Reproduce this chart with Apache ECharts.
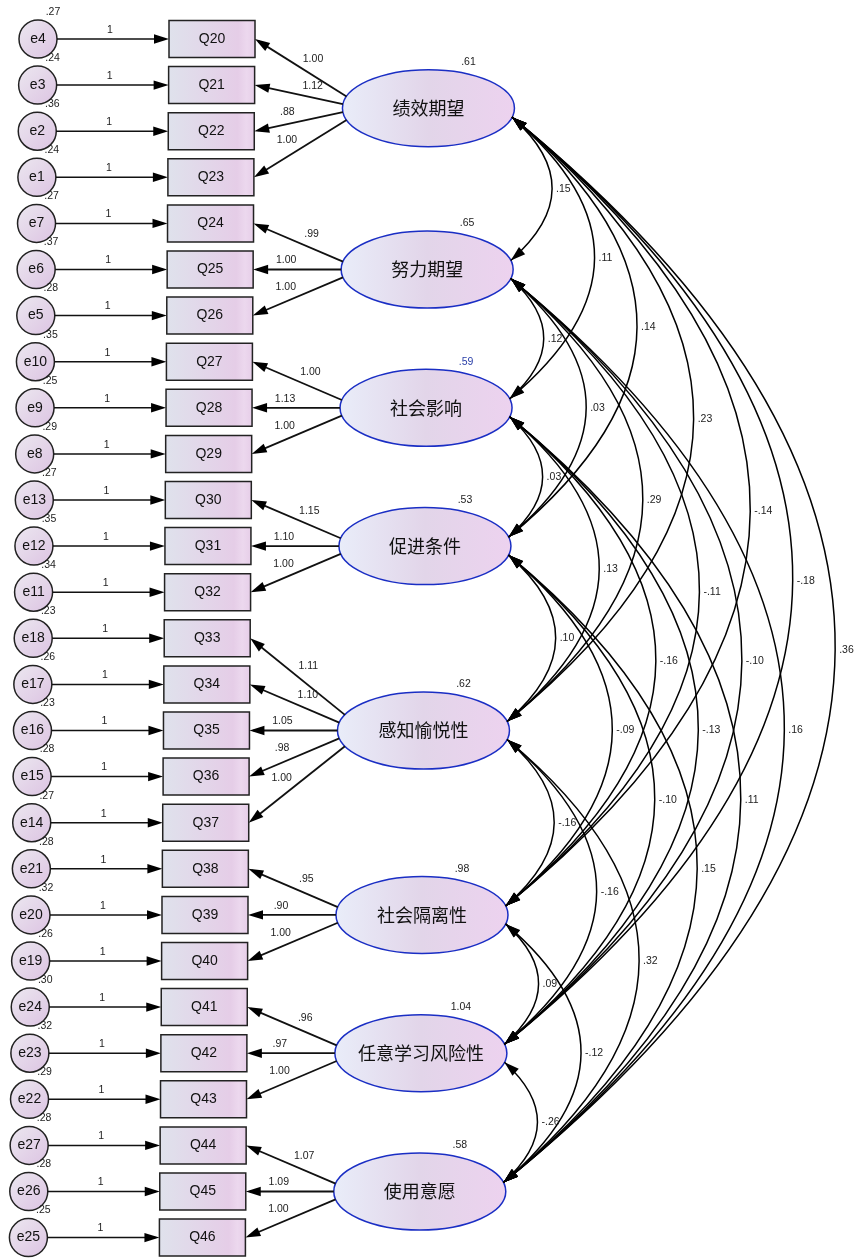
<!DOCTYPE html>
<html><head><meta charset="utf-8">
<script src="https://cdn.jsdelivr.net/npm/echarts@6/dist/echarts.min.js"></script>
<style>html,body{margin:0;padding:0;background:#fff}#c{width:856px;height:1258px}</style>
</head><body><div id="c"></div>
<script>
// ---------- data ----------
const factors = ['绩效期望','努力期望','社会影响','促进条件','感知愉悦性','社会隔离性','任意学习风险性','使用意愿'];
const factorVariances = [0.61,0.65,0.59,0.53,0.62,0.98,1.04,0.58];
const indicators = ['Q20','Q21','Q22','Q23','Q24','Q25','Q26','Q27','Q28','Q29','Q30','Q31','Q32','Q33','Q34','Q35','Q36','Q37','Q38','Q39','Q40','Q41','Q42','Q43','Q44','Q45','Q46'];
const indicatorFactor = [0,0,0,0,1,1,1,2,2,2,3,3,3,4,4,4,4,4,5,5,5,6,6,6,7,7,7];
const loadings = [1.00,1.12,0.88,1.00,0.99,1.00,1.00,1.00,1.13,1.00,1.15,1.10,1.00,1.11,1.10,1.05,0.98,1.00,0.95,0.90,1.00,0.96,0.97,1.00,1.07,1.09,1.00];
const errors = ['e4','e3','e2','e1','e7','e6','e5','e10','e9','e8','e13','e12','e11','e18','e17','e16','e15','e14','e21','e20','e19','e24','e23','e22','e27','e26','e25'];
const errorVariances = [0.27,0.24,0.36,0.24,0.27,0.37,0.28,0.35,0.25,0.29,0.27,0.35,0.34,0.23,0.26,0.23,0.28,0.27,0.28,0.32,0.26,0.30,0.32,0.29,0.28,0.28,0.25];
const errorWeights = errors.map(() => '1');
const covariances = [
  [0,1,0.15],[0,2,0.11],[0,3,0.14],[0,4,0.23],[0,5,-0.14],[0,6,-0.18],[0,7,0.36],
  [1,2,0.12],[1,3,0.03],[1,4,0.29],[1,5,-0.11],[1,6,-0.10],[1,7,0.16],
  [2,3,0.03],[2,4,0.13],[2,5,-0.16],[2,6,-0.13],[2,7,0.11],
  [3,4,0.10],[3,5,-0.09],[3,6,-0.10],[3,7,0.15],
  [4,5,-0.16],[4,6,-0.16],[4,7,0.32],
  [5,6,0.09],[5,7,-0.12],
  [6,7,-0.26]
];

// ---------- layout / style ----------
const L = {
  rowPitch: 46.1, topY: 39, skew: -0.008,
  errX: 38, errR: 19,
  boxX: 212, boxW: 86, boxH: 37,
  facX: 429, facRX: 86, facRY: 38.5,
  attachDY: 9, startFrac: 0.17,
  bulgeK: 0.311, bulge0: -9.5,
  arrowLen: 15, arrowHalf: 4.7
};
const NUM_FONT = 'Liberation Sans, Arial, sans-serif';
const CJK_FONT = '"Noto Sans CJK SC", sans-serif';
const SMALL = '10.5px ' + NUM_FONT;

function fmt(v){ const s = Math.abs(v).toFixed(2); return (v < 0 ? '-' : '') + (s[0] === '0' ? s.slice(1) : s); }
const factorRows = factors.map((_, f) => {
  const rs = indicatorFactor.map((g, k) => g === f ? k : null).filter(v => v !== null);
  return rs.reduce((a, b) => a + b, 0) / rs.length;
});
function P(api, x, row){ const p = api.coord([x, row]); return [p[0] + L.skew * (p[1] - L.topY), p[1]]; }
function arrowHead(tip, from){
  let dx = tip[0] - from[0], dy = tip[1] - from[1]; const d = Math.hypot(dx, dy); dx /= d; dy /= d;
  const bx = tip[0] - dx * L.arrowLen, by = tip[1] - dy * L.arrowLen;
  return {type:'polygon', shape:{points:[tip,[bx - dy*L.arrowHalf, by + dx*L.arrowHalf],[bx + dy*L.arrowHalf, by - dx*L.arrowHalf]]}, style:{fill:'#000'}};
}
function txt(x, y, t, font, fill, align){
  return {type:'text', x, y, style:{text:t, font, fill: fill || '#111', align: align || 'center', verticalAlign:'middle'}};
}
const circleFill = new echarts.graphic.LinearGradient(0,0,1,1,[{offset:0,color:'#ece8f0'},{offset:1,color:'#dcc3e2'}]);
const boxFill = new echarts.graphic.LinearGradient(0,0,1,0,[{offset:0,color:'#dfe2ec'},{offset:0.8,color:'#e5cde7'},{offset:0.9,color:'#ecd8ee'},{offset:1,color:'#e6cde8'}]);
const ellFill = new echarts.graphic.LinearGradient(0,0,1,0,[{offset:0,color:'#e9edf9'},{offset:0.5,color:'#e2d5e9'},{offset:1,color:'#edd2ef'}]);

const errorSeries = {
  type:'custom', data: errors.map((_, k) => [k]),
  renderItem(params, api){
    const k = api.value(0);
    const c = P(api, L.errX, k), b = P(api, L.boxX, k);
    const x1 = c[0] + L.errR, x2 = b[0] - L.boxW/2;
    return {type:'group', children:[
      {type:'circle', shape:{cx:c[0], cy:c[1], r:L.errR}, style:{fill:circleFill, stroke:'#222', lineWidth:1.5}},
      txt(c[0], c[1], errors[k], '14px ' + NUM_FONT),
      txt(c[0] + 15, c[1] - 27, fmt(errorVariances[k]), SMALL, '#222'),
      {type:'line', shape:{x1, y1:c[1], x2: x2 - 4, y2:b[1]}, style:{stroke:'#111', lineWidth:1.5}},
      arrowHead([x2, b[1]], [x1, c[1]]),
      txt((x1 + x2)/2 - 3, c[1] - 9, errorWeights[k], SMALL, '#222')
    ]};
  }
};
const boxSeries = {
  type:'custom', data: indicators.map((_, k) => [k]),
  renderItem(params, api){
    const k = api.value(0);
    const b = P(api, L.boxX, k);
    return {type:'group', children:[
      {type:'rect', shape:{x:b[0]-L.boxW/2, y:b[1]-L.boxH/2, width:L.boxW, height:L.boxH}, style:{fill:boxFill, stroke:'#222', lineWidth:1.5}},
      txt(b[0], b[1], indicators[k], '14px ' + NUM_FONT)
    ]};
  }
};
const factorSeries = {
  type:'custom', data: factors.map((_, f) => [f]),
  renderItem(params, api){
    const f = api.value(0);
    const c = P(api, L.facX, factorRows[f]);
    return {type:'group', children:[
      {type:'ellipse', shape:{cx:c[0], cy:c[1], rx:L.facRX, ry:L.facRY}, style:{fill:ellFill, stroke:'#1a2ec4', lineWidth:1.5}},
      txt(c[0], c[1], factors[f], '18px ' + CJK_FONT, '#111'),
      txt(c[0] + 40, c[1] - 46, fmt(factorVariances[f]), SMALL, f === 2 ? '#2a3fa8' : '#222')
    ]};
  }
};
const loadingSeries = {
  type:'custom', data: indicators.map((_, k) => [k]),
  renderItem(params, api){
    const k = api.value(0), f = indicatorFactor[k];
    const c = P(api, L.facX, factorRows[f]), b = P(api, L.boxX, k);
    const oy = L.startFrac * (b[1] - c[1]);
    const s = [c[0] - L.facRX * Math.sqrt(1 - (oy/L.facRY)**2), c[1] + oy];
    const e = [b[0] + L.boxW/2, b[1]];
    const slope = (s[1] - e[1]) / (s[0] - e[0]);
    const lx = e[0] + (b[1] < c[1] - 1 ? 58 : 33);
    const ly = e[1] + slope * (lx - e[0]) - (9 + 12 * Math.abs(slope));
    let dx = e[0] - s[0], dy = e[1] - s[1]; const d = Math.hypot(dx, dy);
    return {type:'group', children:[
      {type:'line', shape:{x1:s[0], y1:s[1], x2:e[0] - dx/d*4, y2:e[1] - dy/d*4}, style:{stroke:'#111', lineWidth:1.8}},
      arrowHead(e, s),
      txt(lx, ly, fmt(loadings[k]), SMALL, '#222')
    ]};
  }
};
const covSeries = {
  type:'custom', data: covariances,
  renderItem(params, api){
    const i = api.value(0), j = api.value(1), v = api.value(2);
    const ci = P(api, L.facX, factorRows[i]), cj = P(api, L.facX, factorRows[j]);
    const ax = Math.sqrt(1 - (L.attachDY/L.facRY)**2) * L.facRX;
    const p0 = [ci[0] + ax, ci[1] + L.attachDY], p2 = [cj[0] + ax, cj[1] - L.attachDY];
    const span = cj[1] - ci[1];
    const mx = (p0[0] + p2[0]) / 2;
    const apex = mx + L.bulge0 + L.bulgeK * span;
    const cp = [2 * apex - mx, (p0[1] + p2[1]) / 2];
    return {type:'group', children:[
      {type:'bezierCurve', shape:{x1:p0[0], y1:p0[1], x2:p2[0], y2:p2[1], cpx1:cp[0], cpy1:cp[1]}, style:{stroke:'#000', fill:null, lineWidth:1.5}},
      arrowHead(p0, cp), arrowHead(p2, cp),
      txt(apex + 4, cp[1], fmt(v), SMALL, '#222', 'left')
    ]};
  }
};

const chart = echarts.init(document.getElementById('c'), null, {renderer:'canvas', width:856, height:1258});
chart.setOption({
  animation:false,
  backgroundColor:'#ffffff',
  grid:{left:0, right:0, top:0, bottom:0},
  xAxis:{type:'value', min:0, max:856, show:false},
  yAxis:{type:'value', min:-L.topY / L.rowPitch, max:(1258 - L.topY) / L.rowPitch, inverse:true, show:false},
  series:[errorSeries, boxSeries, factorSeries, loadingSeries, covSeries]
});
</script>
</body></html>
